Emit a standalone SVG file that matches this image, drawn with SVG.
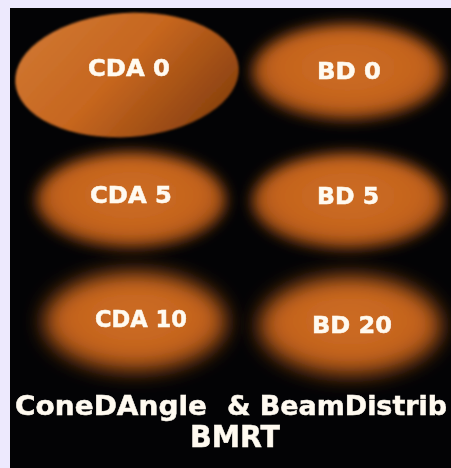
<svg xmlns="http://www.w3.org/2000/svg" width="451" height="468" viewBox="0 0 451 468">
  <defs>
    <style>
      .lbl { font-family: "DejaVu Sans", "Liberation Sans", sans-serif; font-weight: bold; fill: #fffaf0; stroke: #fffaf0; stroke-width: 0.5; text-anchor: middle; }
      .spot { font-size: 23px; }
      .cap { font-size: 27px; }
    </style>
    <linearGradient id="sharpFill" x1="0" y1="0" x2="1" y2="0.6">
      <stop offset="0" stop-color="#d27a35"/>
      <stop offset="0.55" stop-color="#c6661f"/>
      <stop offset="1" stop-color="#8f4410"/>
    </linearGradient>
    <radialGradient id="softFill" cx="0.5" cy="0.45" r="0.55">
      <stop offset="0" stop-color="#cd6d24"/>
      <stop offset="0.7" stop-color="#c4631d"/>
      <stop offset="1" stop-color="#8a4210"/>
    </radialGradient>
    <filter id="soft" x="-20%" y="-30%" width="140%" height="160%">
      <feGaussianBlur stdDeviation="7"/>
    </filter>
    <filter id="softer" x="-20%" y="-30%" width="140%" height="160%">
      <feGaussianBlur stdDeviation="10"/>
    </filter>
    <filter id="edge" x="-10%" y="-10%" width="120%" height="120%">
      <feGaussianBlur stdDeviation="1.2"/>
    </filter>
    <filter id="glyph" x="-5%" y="-20%" width="110%" height="140%">
      <feGaussianBlur stdDeviation="0.6"/>
    </filter>
  </defs>

  <!-- page and dark panel -->
  <rect x="0" y="0" width="451" height="468" fill="#ede9fd"/>
  <rect x="10" y="8" width="441" height="460" fill="#030305"/>

  <!-- light spots -->
  <g id="cda0">
    <ellipse cx="127" cy="75" rx="112" ry="62" transform="rotate(-4 127 75)" fill="url(#sharpFill)" filter="url(#edge)"/>
    <text class="lbl spot" x="129" y="76" textLength="82" lengthAdjust="spacingAndGlyphs" filter="url(#glyph)">CDA 0</text>
  </g>
  <g id="bd0">
    <ellipse cx="348" cy="72" rx="96" ry="48" fill="url(#softFill)" filter="url(#soft)"/>
    <text class="lbl spot" x="349" y="79" textLength="64" lengthAdjust="spacingAndGlyphs" filter="url(#glyph)">BD 0</text>
  </g>
  <g id="cda5">
    <ellipse cx="131" cy="200" rx="95" ry="48" fill="url(#softFill)" filter="url(#soft)"/>
    <text class="lbl spot" x="131" y="203" textLength="82" lengthAdjust="spacingAndGlyphs" filter="url(#glyph)">CDA 5</text>
  </g>
  <g id="bd5">
    <ellipse cx="348" cy="201" rx="96" ry="48" fill="url(#softFill)" filter="url(#soft)"/>
    <text class="lbl spot" x="348" y="204" textLength="62" lengthAdjust="spacingAndGlyphs" filter="url(#glyph)">BD 5</text>
  </g>
  <g id="cda10">
    <ellipse cx="135" cy="322" rx="92" ry="50" fill="url(#softFill)" filter="url(#softer)"/>
    <text class="lbl spot" x="141" y="327" textLength="92" lengthAdjust="spacingAndGlyphs" filter="url(#glyph)">CDA 10</text>
  </g>
  <g id="bd20">
    <ellipse cx="350" cy="326" rx="92" ry="50" fill="url(#softFill)" filter="url(#softer)"/>
    <text class="lbl spot" x="352" y="333" textLength="80" lengthAdjust="spacingAndGlyphs" filter="url(#glyph)">BD 20</text>
  </g>

  <!-- caption -->
  <g id="caption" filter="url(#glyph)">
    <text class="lbl cap" x="111" y="415" textLength="192" lengthAdjust="spacingAndGlyphs">ConeDAngle</text>
    <text class="lbl cap" x="337" y="415" textLength="220" lengthAdjust="spacingAndGlyphs">&amp; BeamDistrib</text>
    <text class="lbl cap" x="235" y="447" textLength="90" lengthAdjust="spacingAndGlyphs" style="font-size:30px">BMRT</text>
  </g>
</svg>
